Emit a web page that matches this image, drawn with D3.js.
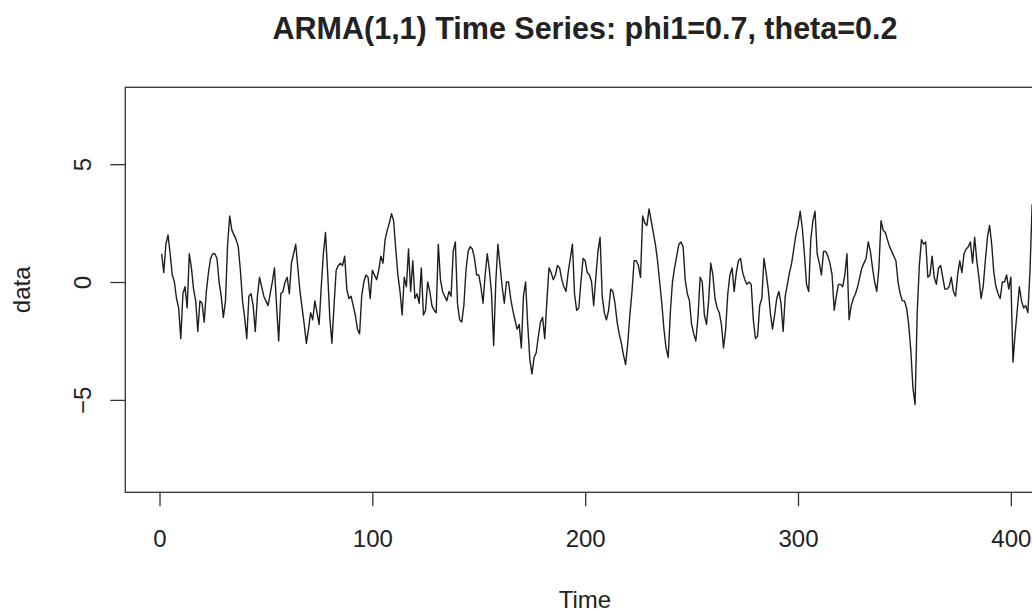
<!DOCTYPE html>
<html>
<head>
<meta charset="utf-8">
<script src="https://cdn.jsdelivr.net/npm/d3@7/dist/d3.min.js"></script>
<style>
  html, body { margin: 0; padding: 0; background: #ffffff; }
  svg { display: block; }
  text { font-family: "Liberation Sans", Arial, Helvetica, sans-serif; fill: #222; }
</style>
</head>
<body>
<svg id="chart" width="1032" height="612"></svg>
<script>
// Simulated ARMA(1,1) series, one value per time step starting at t = 1
const seriesValues = [
  1.2, 0.4, 1.6, 2.0, 1.2, 0.3, 0.0, -0.7, -1.1, -2.4,
  -0.5, -0.2, -1.1, 1.2, 0.6, -0.3, -0.8, -2.1, -0.8, -0.9,
  -1.7, -0.4, 0.4, 1.0, 1.2, 1.2, 1.0, 0.0, -0.6, -1.5,
  -0.8, 1.6, 2.8, 2.2, 2.0, 1.8, 1.5, 0.5, -0.8, -1.5,
  -2.4, -0.6, -0.5, -1.0, -2.1, -0.6, 0.2, -0.2, -0.6, -0.8,
  -1.0, -0.5, 0.0, 0.6, -1.0, -2.5, -0.5, -0.4, 0.0, 0.2,
  -0.5, 0.8, 1.2, 1.6, 0.6, -0.4, -1.1, -1.8, -2.6, -2.0,
  -1.3, -1.6, -0.8, -1.3, -1.8, -0.2, 1.2, 2.1, 0.4, -1.5,
  -2.6, -1.0, 0.5, 0.7, 0.8, 0.7, 1.1, -0.3, -0.7, -0.6,
  -1.0, -1.4, -2.0, -2.2, -0.6, 0.0, 0.3, 0.2, -0.7, 0.5,
  0.3, 0.1, 0.5, 1.1, 0.8, 1.8, 2.2, 2.5, 2.9, 2.6,
  1.4, 0.3, -0.4, -1.4, 0.2, -0.2, 1.4, -0.4, 0.9, -0.7,
  -0.5, -0.9, 0.6, -1.4, -1.2, 0.0, -0.4, -1.0, -1.2, -1.3,
  1.6, 0.1, -0.4, -0.6, -0.8, -0.4, -0.6, 1.3, 1.7, -0.9,
  -1.6, -1.7, -1.0, 0.5, 1.3, 1.5, 1.4, 1.0, 0.3, 0.3,
  -0.2, -0.9, 0.3, 1.2, 0.5, -0.5, -2.7, 0.0, 1.6, 0.7,
  -0.2, -0.9, 0.0, 0.0, -0.7, -1.2, -1.6, -2.0, -1.8, -2.8,
  -0.6, 0.0, -1.8, -3.3, -3.9, -3.2, -3.0, -2.3, -1.7, -1.5,
  -2.4, -0.8, 0.6, 0.4, 0.1, 0.3, 0.7, 0.6, 0.1, -0.2,
  -0.4, 0.4, 1.0, 1.6, -0.5, -1.2, -1.1, 0.0, 1.0, 0.9,
  0.4, 0.3, 0.0, -1.0, 0.2, 1.3, 1.9, -0.6, -1.3, -1.6,
  -1.2, -0.3, -0.4, -0.9, -1.7, -2.2, -2.6, -3.1, -3.5, -2.6,
  -1.4, -0.4, 0.9, 0.9, 0.7, 0.2, 2.8, 2.5, 2.4, 3.1,
  2.6, 2.1, 1.6, 0.9, 0.0, -0.9, -2.0, -2.8, -3.2, -1.3,
  0.0, 0.6, 1.1, 1.6, 1.7, 1.5, 0.1, -0.5, -0.8, -1.8,
  -2.2, -2.5, -1.5, 0.2, 0.0, -1.4, -1.8, -0.8, 0.8, 0.3,
  -0.7, -1.1, -1.3, -1.8, -2.8, -2.0, -0.5, 0.3, 0.6, -0.4,
  0.4, 0.9, 1.0, 0.4, 0.1, -0.1, 0.0, -0.1, -1.6, -2.4,
  -2.3, -1.0, -0.7, 1.0, 0.4, -0.3, -1.3, -2.0, -1.4, -0.7,
  -0.4, -0.9, -2.1, -0.6, -0.1, 0.4, 0.8, 1.4, 2.0, 2.4,
  3.0, 2.3, 1.2, -0.1, -0.4, 1.8, 2.6, 3.0, 1.2, 0.8,
  0.3, 1.3, 1.3, 1.1, 0.8, 0.3, -1.2, -0.6, -0.1, -0.1,
  -0.2, 0.3, 1.2, -1.6, -1.0, -0.7, -0.5, -0.2, 0.2, 0.6,
  0.8, 1.0, 1.7, 1.3, 0.6, 0.0, -0.4, 0.6, 2.6, 2.2,
  2.1, 1.8, 1.5, 1.3, 1.1, 0.9, 0.0, -0.5, -0.8, -0.8,
  -1.1, -1.8, -2.9, -4.5, -5.2, -1.3, 0.7, 1.8, 1.6, 1.7,
  0.2, 0.3, 1.1, 0.2, -0.1, 0.6, 0.7, 0.2, -0.3, -0.3,
  -0.2, 0.2, -0.4, -0.6, 0.3, 0.9, 0.4, 1.2, 1.4, 1.5,
  1.7, 0.8, 1.9, 0.9, 0.2, -0.7, -0.2, 0.9, 1.9, 2.4,
  1.6, 0.4, -0.2, -0.5, -0.7, 0.0, 0.0, 0.3, -0.3, 0.2,
  -3.4, -2.2, -1.2, -0.2, -0.8, -1.1, -1.0, -1.3, 0.5, 3.3
];
const timeSteps = seriesValues.map((_, i) => i + 1);

const xTickValues = [0, 100, 200, 300, 400, 500];
const yTickValues = [-5, 0, 5];
const chartTitle = "ARMA(1,1) Time Series: phi1=0.7, theta=0.2";
const xLabel = "Time";
const yLabel = "data";

// Plot region (the right edge runs past the visible canvas)
const plot = { left: 125.3, top: 87.3, right: 1044.7, bottom: 492.3 };

const svg = d3.select("#chart");

const x = d3.scaleLinear().domain([-16.07, 415.9]).range([plot.left, plot.right]);
const y = d3.scaleLinear().domain([-8.92, 8.26]).range([plot.bottom, plot.top]);

svg.append("defs").append("clipPath").attr("id", "plot-clip")
  .append("rect")
  .attr("x", plot.left).attr("y", plot.top)
  .attr("width", plot.right - plot.left).attr("height", plot.bottom - plot.top);

// Series line
const line = d3.line()
  .x((d, i) => x(timeSteps[i]))
  .y(d => y(d));

svg.append("path")
  .datum(seriesValues)
  .attr("clip-path", "url(#plot-clip)")
  .attr("fill", "none")
  .attr("stroke", "#1e1e1e")
  .attr("stroke-width", 1.4)
  .attr("stroke-linejoin", "round")
  .attr("d", line);

// Frame around the plot region
svg.append("rect")
  .attr("x", plot.left).attr("y", plot.top)
  .attr("width", plot.right - plot.left).attr("height", plot.bottom - plot.top)
  .attr("fill", "none")
  .attr("stroke", "#333")
  .attr("stroke-width", 1.3);

// Bottom axis
const xAxis = svg.append("g")
  .attr("transform", `translate(0,${plot.bottom})`)
  .call(d3.axisBottom(x).tickValues(xTickValues).tickSize(14).tickPadding(24).tickFormat(d3.format("d")));
xAxis.select(".domain").remove();
xAxis.selectAll(".tick line").attr("stroke", "#333").attr("stroke-width", 1.3);
xAxis.selectAll(".tick text")
  .style("font-size", "24px")
  .style("font-family", "\"Liberation Sans\", Arial, sans-serif")
  .attr("fill", "#222");

// Left axis with labels running parallel to the axis
const yAxis = svg.append("g")
  .attr("transform", `translate(${plot.left},0)`)
  .call(d3.axisLeft(y).tickValues(yTickValues).tickSize(15).tickFormat(d3.format("d")));
yAxis.select(".domain").remove();
yAxis.selectAll(".tick line").attr("stroke", "#333").attr("stroke-width", 1.3);
yAxis.selectAll(".tick text")
  .attr("x", null).attr("dy", null)
  .attr("text-anchor", "middle")
  .attr("transform", `translate(${90.5 - plot.left},0) rotate(-90)`)
  .style("font-size", "24px")
  .style("font-family", "\"Liberation Sans\", Arial, sans-serif")
  .attr("fill", "#222");

const midX = (plot.left + plot.right) / 2;

// Title
svg.append("text")
  .attr("x", midX).attr("y", 38.5)
  .attr("text-anchor", "middle")
  .style("font-size", "30.5px")
  .style("font-weight", "bold")
  .text(chartTitle);

// Axis titles
svg.append("text")
  .attr("x", midX).attr("y", 608)
  .attr("text-anchor", "middle")
  .style("font-size", "24px")
  .text(xLabel);

svg.append("text")
  .attr("transform", `translate(29.5,${(plot.top + plot.bottom) / 2}) rotate(-90)`)
  .attr("text-anchor", "middle")
  .style("font-size", "24px")
  .text(yLabel);
</script>
</body>
</html>
